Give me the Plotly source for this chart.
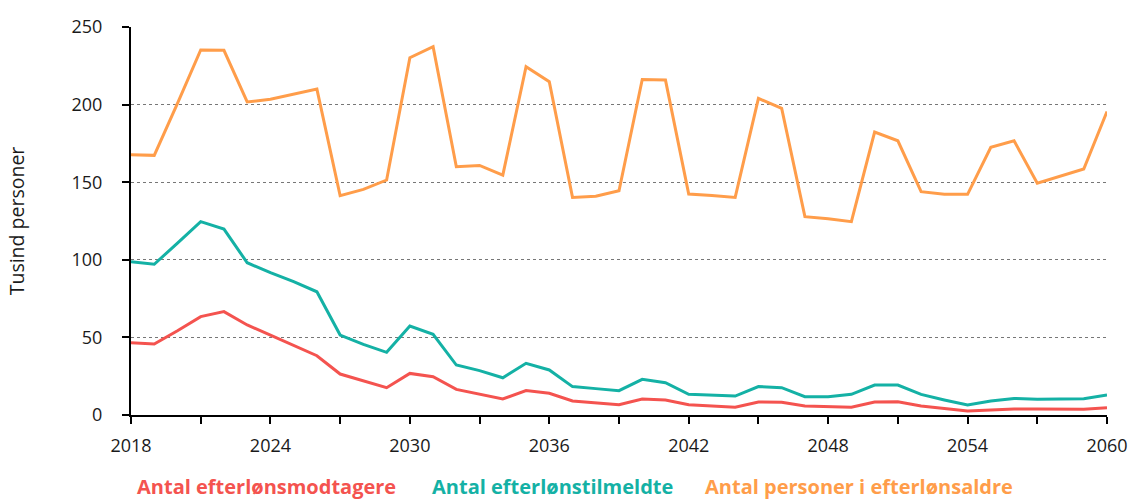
import plotly.graph_objects as go

years = list(range(2018, 2061))

modtagere = [46.6, 45.7, 54.3, 63.4, 66.6, 58.0, 51.5, 44.7, 38.2, 26.4,
             21.9, 17.6, 26.8, 24.7, 16.5, 13.3, 10.3, 15.7, 14.0, 9.0,
             7.9, 6.6, 10.3, 9.7, 6.6, 5.8, 5.0, 8.4, 8.2, 5.8,
             5.4, 5.0, 8.4, 8.5, 5.8, 4.1, 2.6, 3.2, 3.9, 3.9,
             3.9, 3.7, 4.7]

tilmeldte = [98.8, 97.1, 110.8, 124.6, 119.8, 98.1, 91.7, 85.9, 79.4, 51.5,
             45.5, 40.4, 57.3, 52.0, 32.2, 28.6, 24.0, 33.3, 29.0, 18.3,
             17.0, 15.7, 23.0, 20.8, 13.3, 12.9, 12.2, 18.3, 17.6, 11.8,
             11.8, 13.3, 19.3, 19.3, 13.3, 9.7, 6.4, 9.0, 10.7, 10.1,
             10.5, 10.5, 12.9]

aldre = [167.7, 167.3, 200.8, 235.2, 235.0, 201.7, 203.4, 206.8, 210.0, 141.3,
         145.4, 151.4, 230.2, 237.3, 160.0, 160.8, 154.6, 224.4, 214.8, 140.2,
         140.9, 144.5, 216.2, 215.8, 142.4, 141.5, 140.2, 204.0, 197.6, 127.8,
         126.5, 124.6, 182.3, 176.7, 143.9, 142.2, 142.2, 172.5, 176.7, 149.3,
         154.0, 158.5, 195.5]

series_names = ["Antal efterlønsmodtagere", "Antal efterlønstilmeldte", "Antal personer i efterlønsaldre"]
series_colors = ["#F4534F", "#14B1A5", "#FF9D4A"]

fig = go.Figure()
for name, vals, col in zip(series_names, [modtagere, tilmeldte, aldre], series_colors):
    fig.add_trace(go.Scatter(x=years, y=vals, mode="lines", name=name,
                             line=dict(color=col, width=3), showlegend=False))

font_family = "'Open Sans', sans-serif"

W, H = 1132, 499
L, T, R, B = 131, 27, 25, 84
plot_w = W - L - R
plot_h = H - T - B

fig.update_layout(
    width=W, height=H,
    margin=dict(l=L, r=R, t=T, b=B, autoexpand=False),
    paper_bgcolor="white", plot_bgcolor="white",
    font=dict(family=font_family, size=18, color="#1a1a1a"),
    xaxis=dict(
        range=[2018, 2060], tickvals=list(range(2018, 2061, 6)),
        ticks="outside", ticklen=7, tickwidth=2, tickcolor="black",
        showline=True, linecolor="black", linewidth=2,
        showgrid=False, zeroline=False, ticklabelstandoff=6,
        minor=dict(tickvals=list(range(2018, 2061, 3)), ticks="outside",
                   ticklen=7, tickwidth=2, tickcolor="black"),
    ),
    yaxis=dict(
        range=[0, 250], tickvals=[0, 50, 100, 150, 200, 250],
        ticks="outside", ticklen=7, tickwidth=2, tickcolor="black",
        showline=True, linecolor="black", linewidth=2,
        showgrid=True, gridcolor="#777777", griddash="dot", gridwidth=1,
        zeroline=False, ticklabelstandoff=16,
        title=dict(text="Tusind personer", font=dict(size=19.5), standoff=42),
    ),
)

# colored text legend (positions in screen px of the reference)
legend_x = [135, 430, 703]
legend_y = 486
for name, col, xp in zip(series_names, series_colors, legend_x):
    fig.add_annotation(text="<b>" + name + "</b>",
                       x=(xp - L) / plot_w, y=(H - B - legend_y) / plot_h,
                       xref="paper", yref="paper", xanchor="left", yanchor="middle",
                       showarrow=False, font=dict(color=col, size=20, family=font_family))

fig.write_html("out.html",
               config={"displayModeBar": False},
               post_script="document.body.style.margin='0';document.body.style.overflow='hidden';")
